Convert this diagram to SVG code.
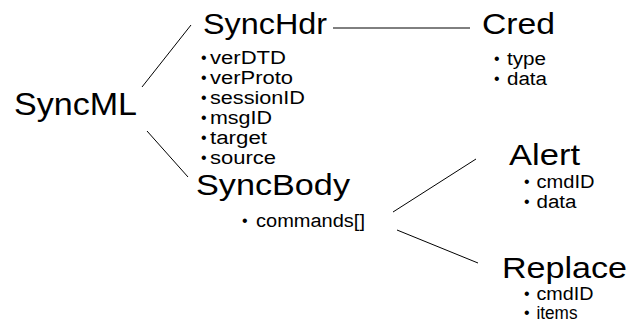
<svg xmlns="http://www.w3.org/2000/svg" width="629" height="322" viewBox="0 0 629 322">
<style>
text{font-family:"Liberation Sans",Arial,sans-serif;fill:#000}
.t{font-size:29px}
.b{font-size:18px}
.d{font-size:16px}
.c line{stroke:#000;stroke-width:1}
</style>
<rect width="629" height="322" fill="#fff"/>
<g id="connectors" class="c">
<line x1="142" y1="87" x2="191" y2="25"/>
<line x1="147" y1="131" x2="188" y2="177"/>
<line x1="333" y1="28" x2="470" y2="28"/>
<line x1="393" y1="212" x2="476" y2="159"/>
<line x1="397" y1="230" x2="478" y2="263"/>
</g>
<g id="SyncML">
<text x="14" y="115" style="font-size:32px" textLength="123" lengthAdjust="spacingAndGlyphs">SyncML</text>
</g>
<g id="SyncHdr">
<text class="t" x="203" y="34" textLength="124" lengthAdjust="spacingAndGlyphs">SyncHdr</text>
<text class="d" x="201" y="63">•</text><text class="b" x="210" y="64" textLength="76" lengthAdjust="spacingAndGlyphs">verDTD</text>
<text class="d" x="201" y="83">•</text><text class="b" x="210" y="84" textLength="83" lengthAdjust="spacingAndGlyphs">verProto</text>
<text class="d" x="201" y="103">•</text><text class="b" x="210" y="104" textLength="95" lengthAdjust="spacingAndGlyphs">sessionID</text>
<text class="d" x="201" y="123">•</text><text class="b" x="210" y="124" textLength="62" lengthAdjust="spacingAndGlyphs">msgID</text>
<text class="d" x="201" y="143">•</text><text class="b" x="210" y="144" textLength="57" lengthAdjust="spacingAndGlyphs">target</text>
<text class="d" x="201" y="163">•</text><text class="b" x="210" y="164" textLength="66" lengthAdjust="spacingAndGlyphs">source</text>
</g>
<g id="Cred">
<text class="t" x="482" y="34" textLength="73" lengthAdjust="spacingAndGlyphs">Cred</text>
<text class="d" x="494" y="64">•</text><text class="b" x="507" y="65" textLength="39" lengthAdjust="spacingAndGlyphs">type</text>
<text class="d" x="494" y="84">•</text><text class="b" x="507" y="85" textLength="40" lengthAdjust="spacingAndGlyphs">data</text>
</g>
<g id="SyncBody">
<text class="t" x="196" y="195" textLength="154" lengthAdjust="spacingAndGlyphs">SyncBody</text>
<text class="d" x="242" y="226">•</text><text class="b" x="256" y="227" textLength="109" lengthAdjust="spacingAndGlyphs">commands[]</text>
</g>
<g id="Alert">
<text class="t" x="509" y="165" textLength="71" lengthAdjust="spacingAndGlyphs">Alert</text>
<text class="d" x="524" y="187">•</text><text class="b" x="536.5" y="188" textLength="58" lengthAdjust="spacingAndGlyphs">cmdID</text>
<text class="d" x="524" y="207">•</text><text class="b" x="536.5" y="208" textLength="40" lengthAdjust="spacingAndGlyphs">data</text>
</g>
<g id="Replace">
<text class="t" x="502" y="278" textLength="125" lengthAdjust="spacingAndGlyphs">Replace</text>
<text class="d" x="524" y="299">•</text><text class="b" x="536.5" y="300" textLength="57" lengthAdjust="spacingAndGlyphs">cmdID</text>
<text class="d" x="524" y="318">•</text><text class="b" x="536.5" y="319" textLength="41" lengthAdjust="spacingAndGlyphs">items</text>
</g>
</svg>
